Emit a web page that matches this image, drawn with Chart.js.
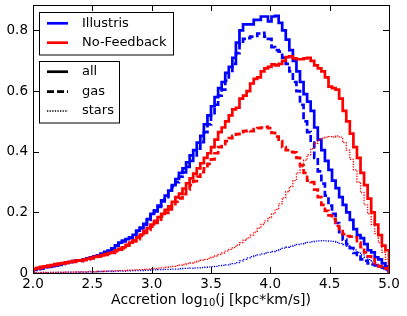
<!DOCTYPE html>
<html>
<head>
<meta charset="utf-8">
<script src="https://cdn.jsdelivr.net/npm/chart.js@4.4.1/dist/chart.umd.min.js"></script>
<style>
  body { margin: 0; background: #fff; }
  canvas { display: block; }
</style>
</head>
<body>
<canvas id="grafica" width="407" height="316"></canvas>
<script>
// bins: 100 steps of 0.03 from 2.0 to 5.0
const binStart = 2.0;
const binWidth = 0.03;

const xTicks = [2.0, 2.5, 3.0, 3.5, 4.0, 4.5, 5.0];
const xTickLabels = ['2.0', '2.5', '3.0', '3.5', '4.0', '4.5', '5.0'];
const yTicks = [0, 0.2, 0.4, 0.6, 0.8];
const yTickLabels = ['0', '0.2', '0.4', '0.6', '0.8'];

const simNames = ['Illustris', 'No-Feedback'];
const kindNames = ['all', 'gas', 'stars'];

// Illustris
const illAll = [
  0.012,0.015,0.016,0.019,0.021,0.023,0.026,0.028,0.031,0.034,
  0.036,0.039,0.042,0.041,0.045,0.048,0.052,0.055,0.058,0.064,
  0.070,0.074,0.081,0.091,0.100,0.107,0.112,0.118,0.126,0.140,
  0.150,0.162,0.178,0.195,0.207,0.222,0.240,0.255,0.272,0.290,
  0.310,0.330,0.345,0.365,0.388,0.405,0.430,0.452,0.490,0.520,
  0.550,0.580,0.610,0.630,0.660,0.680,0.710,0.760,0.800,0.820,
  0.820,0.820,0.835,0.835,0.846,0.846,0.830,0.846,0.848,0.825,
  0.800,0.770,0.735,0.700,0.665,0.630,0.590,0.565,0.535,0.480,
  0.440,0.405,0.370,0.340,0.305,0.280,0.250,0.225,0.200,0.175,
  0.145,0.125,0.115,0.095,0.075,0.068,0.052,0.045,0.032,0.022
];
const illGas = [
  0.010,0.013,0.015,0.018,0.020,0.022,0.025,0.027,0.030,0.033,
  0.035,0.038,0.040,0.040,0.044,0.047,0.050,0.054,0.057,0.062,
  0.068,0.072,0.079,0.089,0.098,0.104,0.110,0.116,0.124,0.137,
  0.147,0.159,0.175,0.192,0.203,0.218,0.236,0.250,0.266,0.284,
  0.300,0.318,0.332,0.350,0.370,0.388,0.410,0.432,0.465,0.490,
  0.520,0.555,0.585,0.605,0.635,0.660,0.690,0.725,0.755,0.772,
  0.775,0.780,0.782,0.790,0.792,0.780,0.772,0.745,0.735,0.730,
  0.710,0.690,0.665,0.630,0.600,0.555,0.500,0.465,0.430,0.380,
  0.335,0.295,0.255,0.222,0.195,0.165,0.135,0.110,0.095,0.082,
  0.066,0.060,0.045,0.040,0.032,0.028,0.025,0.022,0.018,0.012
];
const illStars = [
  0.001,0.001,0.001,0.002,0.001,0.002,0.002,0.002,0.002,0.003,
  0.003,0.003,0.003,0.004,0.003,0.004,0.004,0.004,0.005,0.005,
  0.005,0.006,0.005,0.006,0.007,0.006,0.007,0.007,0.008,0.008,
  0.008,0.009,0.009,0.010,0.010,0.011,0.011,0.012,0.012,0.013,
  0.013,0.014,0.015,0.015,0.016,0.017,0.017,0.018,0.019,0.020,
  0.021,0.022,0.024,0.025,0.027,0.029,0.031,0.034,0.040,0.045,
  0.050,0.054,0.057,0.060,0.063,0.066,0.068,0.071,0.074,0.078,
  0.082,0.085,0.088,0.091,0.094,0.096,0.099,0.101,0.103,0.105,
  0.106,0.107,0.106,0.105,0.104,0.101,0.098,0.094,0.089,0.083,
  0.076,0.068,0.060,0.052,0.044,0.036,0.028,0.020,0.013,0.007
];

// No-Feedback
const nfAll = [
  0.014,0.017,0.020,0.022,0.024,0.026,0.029,0.031,0.033,0.035,
  0.037,0.039,0.041,0.042,0.044,0.047,0.050,0.053,0.056,0.058,
  0.062,0.066,0.068,0.075,0.080,0.085,0.093,0.100,0.108,0.117,
  0.127,0.138,0.148,0.160,0.172,0.184,0.195,0.208,0.220,0.235,
  0.250,0.262,0.278,0.296,0.312,0.328,0.345,0.362,0.380,0.395,
  0.415,0.440,0.465,0.480,0.500,0.520,0.540,0.545,0.575,0.585,
  0.600,0.625,0.640,0.645,0.665,0.675,0.680,0.688,0.685,0.690,
  0.700,0.712,0.715,0.708,0.705,0.705,0.708,0.710,0.700,0.685,
  0.675,0.665,0.645,0.615,0.610,0.605,0.575,0.535,0.500,0.460,
  0.415,0.380,0.330,0.290,0.245,0.200,0.160,0.125,0.090,0.075
];
const nfGas = [
  0.012,0.015,0.018,0.020,0.022,0.024,0.027,0.029,0.031,0.033,
  0.035,0.037,0.039,0.040,0.042,0.045,0.048,0.051,0.054,0.056,
  0.060,0.064,0.066,0.072,0.077,0.082,0.090,0.096,0.104,0.112,
  0.122,0.132,0.142,0.153,0.165,0.176,0.187,0.198,0.210,0.222,
  0.235,0.246,0.260,0.275,0.290,0.303,0.318,0.333,0.345,0.360,
  0.375,0.395,0.415,0.425,0.435,0.445,0.452,0.458,0.465,0.468,
  0.470,0.468,0.475,0.478,0.480,0.482,0.478,0.462,0.450,0.435,
  0.415,0.405,0.400,0.398,0.380,0.355,0.330,0.305,0.300,0.275,
  0.250,0.225,0.205,0.190,0.178,0.155,0.145,0.128,0.122,0.120,
  0.118,0.100,0.085,0.068,0.055,0.045,0.032,0.022,0.020,0.015
];
const nfStars = [
  0.001,0.001,0.002,0.001,0.002,0.002,0.002,0.003,0.002,0.003,
  0.003,0.003,0.004,0.003,0.004,0.004,0.005,0.004,0.005,0.005,
  0.006,0.006,0.007,0.007,0.008,0.008,0.009,0.009,0.010,0.011,
  0.011,0.012,0.013,0.014,0.015,0.016,0.017,0.019,0.020,0.022,
  0.024,0.026,0.028,0.031,0.033,0.036,0.039,0.042,0.045,0.048,
  0.052,0.056,0.061,0.066,0.072,0.078,0.084,0.092,0.100,0.108,
  0.116,0.125,0.135,0.148,0.160,0.172,0.183,0.195,0.210,0.228,
  0.248,0.268,0.285,0.305,0.330,0.350,0.372,0.390,0.410,0.428,
  0.440,0.445,0.448,0.450,0.448,0.452,0.448,0.430,0.405,0.375,
  0.340,0.300,0.265,0.225,0.195,0.160,0.130,0.100,0.068,0.045
];

const simColors = ['#0000ff', '#ff0000'];
const kindWidth = [2.7, 2.7, 1.3];
const kindDash = [[], [7, 3], [1.3, 1.3]];

// step histogram: value i covers [edge i, edge i+1]
function toSteps(vals) {
  const pts = [{ x: binStart, y: 0 }];
  vals.forEach(function (v, i) {
    pts.push({ x: +(binStart + i * binWidth).toFixed(3), y: v });
  });
  const end = +(binStart + vals.length * binWidth).toFixed(3);
  pts.push({ x: end, y: vals[vals.length - 1] });
  pts.push({ x: end, y: 0 });
  return pts;
}

function makeSet(label, vals, sim, kind) {
  return {
    label: label,
    data: toSteps(vals),
    stepped: true,
    borderColor: simColors[sim],
    borderWidth: kindWidth[kind],
    borderDash: kindDash[kind],
    pointRadius: 0,
    fill: false,
    tension: 0
  };
}

const fontFam = '"DejaVu Sans", sans-serif';

// frame, inward ticks, tick labels, axis title and the two legend boxes
const ejes = {
  id: 'ejes',
  afterDatasetsDraw(chart) {
    const ctx = chart.ctx;
    const a = chart.chartArea;
    const sx = chart.scales.x;
    const sy = chart.scales.y;
    ctx.save();
    ctx.strokeStyle = '#000';
    ctx.lineWidth = 1;
    ctx.setLineDash([]);
    ctx.strokeRect(Math.round(a.left) + 0.5, Math.round(a.top) + 0.5,
      Math.round(a.right - a.left), Math.round(a.bottom - a.top));

    ctx.beginPath();
    xTicks.forEach(function (v) {
      const px = Math.round(sx.getPixelForValue(v)) + 0.5;
      ctx.moveTo(px, a.bottom); ctx.lineTo(px, a.bottom - 6);
      ctx.moveTo(px, a.top); ctx.lineTo(px, a.top + 6);
    });
    yTicks.forEach(function (v) {
      const py = Math.round(sy.getPixelForValue(v)) + 0.5;
      ctx.moveTo(a.left, py); ctx.lineTo(a.left + 6, py);
      ctx.moveTo(a.right, py); ctx.lineTo(a.right - 6, py);
    });
    ctx.stroke();

    ctx.fillStyle = '#000';
    ctx.font = '13.5px ' + fontFam;
    ctx.textAlign = 'center';
    ctx.textBaseline = 'middle';
    xTicks.forEach(function (v, i) {
      ctx.fillText(xTickLabels[i], sx.getPixelForValue(v), a.bottom + 11);
    });
    ctx.textAlign = 'right';
    yTicks.forEach(function (v, i) {
      ctx.fillText(yTickLabels[i], a.left - 5, sy.getPixelForValue(v));
    });

    // axis title with subscript
    const t1 = 'Accretion log';
    const t2 = '10';
    const t3 = '(j [kpc*km/s])';
    ctx.font = '14px ' + fontFam;
    const w1 = ctx.measureText(t1).width;
    const w3 = ctx.measureText(t3).width;
    ctx.font = '10px ' + fontFam;
    const w2 = ctx.measureText(t2).width;
    let tx = (a.left + a.right) / 2 - (w1 + w2 + w3) / 2;
    const ty = 300;
    ctx.textAlign = 'left';
    ctx.font = '14px ' + fontFam;
    ctx.fillText(t1, tx, ty);
    tx += w1;
    ctx.font = '10px ' + fontFam;
    ctx.fillText(t2, tx, ty + 3);
    tx += w2;
    ctx.font = '14px ' + fontFam;
    ctx.fillText(t3, tx, ty);

    // legend boxes
    ctx.font = '13px ' + fontFam;
    ctx.fillStyle = '#fff';
    ctx.fillRect(39.5, 12.5, 134, 42.5);
    ctx.strokeRect(39.5, 12.5, 134, 42.5);
    ctx.fillRect(39.5, 61.5, 80, 61.5);
    ctx.strokeRect(39.5, 61.5, 80, 61.5);

    const rows1 = [23.3, 42.7];
    simNames.forEach(function (name, i) {
      ctx.strokeStyle = simColors[i];
      ctx.lineWidth = 2.7;
      ctx.setLineDash([]);
      ctx.beginPath();
      ctx.moveTo(47, rows1[i]); ctx.lineTo(68, rows1[i]);
      ctx.stroke();
      ctx.fillStyle = '#000';
      ctx.fillText(name, 82, rows1[i]);
    });

    const rows2 = [71.7, 91.7, 111];
    kindNames.forEach(function (name, i) {
      ctx.strokeStyle = '#000';
      ctx.lineWidth = kindWidth[i];
      ctx.setLineDash(kindDash[i]);
      ctx.beginPath();
      ctx.moveTo(47, rows2[i]); ctx.lineTo(68, rows2[i]);
      ctx.stroke();
      ctx.fillStyle = '#000';
      ctx.fillText(name, 82, rows2[i]);
    });
    ctx.restore();
  }
};

const config = {
  type: 'line',
  data: {
    datasets: [
      makeSet('No-Feedback all', nfAll, 1, 0),
      makeSet('No-Feedback gas', nfGas, 1, 1),
      makeSet('No-Feedback stars', nfStars, 1, 2),
      makeSet('Illustris all', illAll, 0, 0),
      makeSet('Illustris gas', illGas, 0, 1),
      makeSet('Illustris stars', illStars, 0, 2)
    ]
  },
  options: {
    responsive: false,
    animation: false,
    devicePixelRatio: 1,
    layout: { padding: { left: 33, right: 18, top: 5, bottom: 43 } },
    plugins: {
      legend: { display: false },
      tooltip: { enabled: false }
    },
    scales: {
      x: { type: 'linear', min: 2.0, max: 5.0, display: false },
      y: { type: 'linear', min: 0, max: 0.884, display: false }
    }
  },
  plugins: [ejes]
};

new Chart(document.getElementById('grafica'), config);
</script>
</body>
</html>
